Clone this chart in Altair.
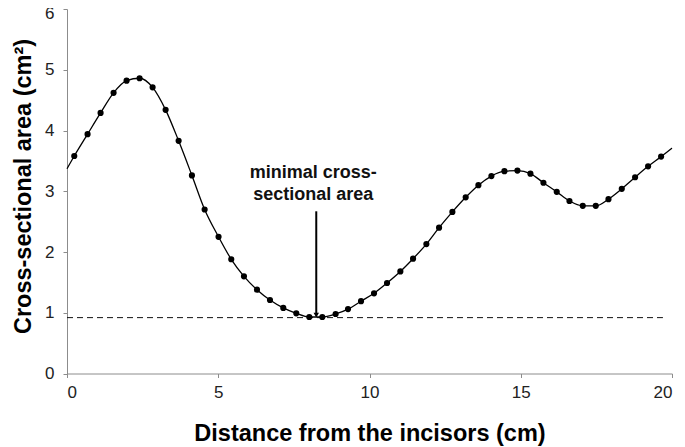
import altair as alt
import pandas as pd

# Measured cross-sectional area points (cm, cm^2)
dist = [0.24, 0.68, 1.11, 1.54, 1.97, 2.40, 2.83, 3.26, 3.69, 4.13,
        4.55, 5.01, 5.43, 5.85, 6.28, 6.71, 7.15, 7.58, 8.01, 8.44,
        8.88, 9.29, 9.72, 10.15, 10.58, 11.02, 11.44, 11.88, 12.30, 12.74,
        13.18, 13.60, 14.03, 14.46, 14.89, 15.32, 15.75, 16.19, 16.61, 17.05,
        17.48, 17.90, 18.34, 18.78, 19.21, 19.64]
area = [3.58, 3.94, 4.29, 4.62, 4.82, 4.86, 4.71, 4.34, 3.83, 3.26,
        2.70, 2.25, 1.88, 1.60, 1.38, 1.21, 1.08, 0.99, 0.93, 0.93,
        0.98, 1.06, 1.19, 1.32, 1.49, 1.68, 1.89, 2.13, 2.40, 2.66,
        2.90, 3.10, 3.25, 3.33, 3.34, 3.29, 3.14, 2.99, 2.84, 2.76,
        2.76, 2.87, 3.04, 3.23, 3.41, 3.57]

# curve end values at the axis limits
curve_start = [0.0, 3.37]
curve_end = [20.0, 3.71]

min_area = 0.92
min_line_x = [0.0, 19.7]

arrow_x = 8.24
arrow_y = [2.67, 0.96]
label_x = 8.14
label_lines = ["minimal cross-", "sectional area"]
label_y = [3.21, 2.85]

x_ticks = [0, 5, 10, 15, 20]
y_ticks = [0, 1, 2, 3, 4, 5, 6]

FONT = "Liberation Sans, Arial, sans-serif"

pts = pd.DataFrame({"x": dist, "y": area})
curve = pd.DataFrame({"x": [curve_start[0]] + dist + [curve_end[0]],
                      "y": [curve_start[1]] + area + [curve_end[1]]})
minline = pd.DataFrame({"x": [min_line_x[0]], "x2": [min_line_x[1]], "y": [min_area]})
arrow = pd.DataFrame({"x": [arrow_x], "y": [arrow_y[0]], "y2": [arrow_y[1]]})
head = pd.DataFrame({"x": [arrow_x], "y": [arrow_y[1]]})
labels = pd.DataFrame({"x": [label_x] * 2, "y": label_y, "t": label_lines})

xs = alt.Scale(domain=[0, 20], nice=False)
ys = alt.Scale(domain=[0, 6], nice=False)

xax = alt.Axis(values=x_ticks, format="d", title="Distance from the incisors (cm)", grid=False,
               tickSize=4, labelPadding=7, titleBaseline="alphabetic", titleX=302.5, titleY=66.5,
               titleAlign="center")
yax = alt.Axis(values=y_ticks, format="d", title="Cross-sectional area (cm²)", grid=False,
               tickSize=4, labelPadding=9, titleBaseline="alphabetic", titleX=-37, titleY=177,
               titleAlign="center", titleAngle=270,
               labelOffset={"condition": {"test": "datum.value == 6", "value": 4.5}, "value": 0})

X = alt.X("x:Q", scale=xs, axis=xax)
Y = alt.Y("y:Q", scale=ys, axis=yax)

line = alt.Chart(curve).mark_line(color="black", strokeWidth=1.3, interpolate="monotone").encode(x=X, y=Y)
dots = alt.Chart(pts).mark_point(shape="circle", filled=True, color="black", size=38, opacity=1).encode(x="x:Q", y="y:Q")
dash = alt.Chart(minline).mark_rule(color="#111", strokeWidth=1, strokeDash=[6, 4]).encode(x="x:Q", x2="x2:Q", y="y:Q")
arr = alt.Chart(arrow).mark_rule(color="black", strokeWidth=2).encode(x="x:Q", y="y:Q", y2="y2:Q")
arrh = alt.Chart(head).mark_point(shape="triangle-down", filled=True, color="black", size=30, opacity=1).encode(x="x:Q", y="y:Q")
txt = alt.Chart(labels).mark_text(font=FONT, fontSize=18, fontWeight="bold", color="#111",
                                  align="center", baseline="alphabetic").encode(x="x:Q", y="y:Q", text="t:N")

chart = alt.layer(dash, line, dots, arr, arrh, txt).properties(
    width=605, height=364.5,
    background="white",
    autosize=alt.AutoSizeParams(type="none"),
    padding={"left": 59, "top": 1, "right": 5, "bottom": 73.5},
).configure_view(stroke=None).configure_axis(
    domainColor="#8c8c8c", tickColor="#8c8c8c", labelColor="#222", titleColor="#000",
    labelFont=FONT, titleFont=FONT, labelFontSize=17, titleFontSize=23.5, titleFontWeight="bold",
)

chart.save("out.html", embed_options={"renderer": "svg", "actions": False})
